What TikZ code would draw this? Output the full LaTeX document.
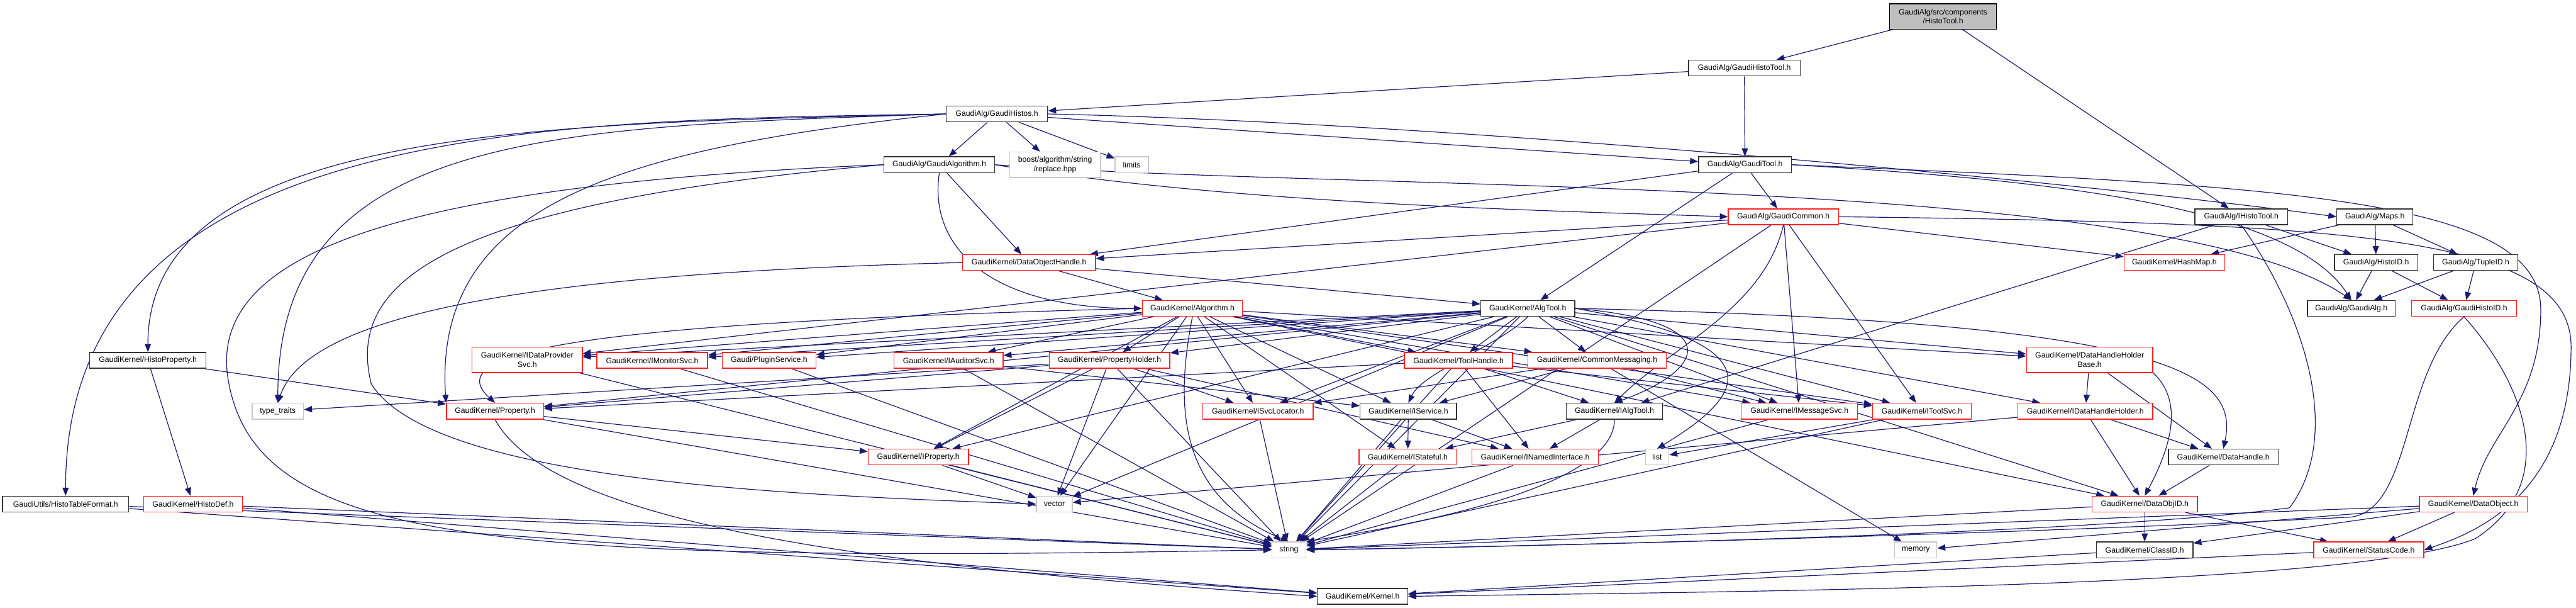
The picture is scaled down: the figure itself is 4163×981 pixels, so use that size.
\documentclass[tikz,border=0pt]{standalone}
\usepackage{fontspec}
\setmainfont{Liberation Sans}
\usetikzlibrary{arrows.meta}
\definecolor{edgec}{HTML}{191970}
\definecolor{redb}{HTML}{FF2020}
\definecolor{grayb}{HTML}{C8C8C8}
\definecolor{topfill}{HTML}{BFBFBF}
\begin{document}
\begin{tikzpicture}[x=1pt,y=-1pt,font=\fontsize{12.5}{15}\selectfont,
  box/.style={draw, fill=white, line width=1.4pt, inner sep=0pt, minimum height=25.5pt, align=center},
  nb/.style={box, draw=black!80},
  nr/.style={box, draw=redb},
  ng/.style={box, draw=grayb},
  ntop/.style={box, draw=black, fill=topfill},
  e/.style={draw=edgec, line width=1.2pt, -{Triangle[length=13pt,width=10pt]}}]
\useasboundingbox (0,0) rectangle (4163,981);
\path
 (3140,26.5) coordinate (ptop)
 (2819,110) coordinate (pght)
 (1611,184) coordinate (pgh)
 (1518,266) coordinate (pga)
 (1705,266) coordinate (pboost)
 (1829,266) coordinate (plimits)
 (2820,266) coordinate (pgt)
 (2882,350) coordinate (pgc)
 (3622,350) coordinate (piht)
 (3838,350) coordinate (pmaps)
 (1663,424) coordinate (pdoh)
 (3514,424) coordinate (phm)
 (3840,424) coordinate (phid)
 (4001,424) coordinate (ptid)
 (1927,498) coordinate (palg)
 (2469,498) coordinate (pat)
 (3800,498) coordinate (pgalg)
 (3982,498) coordinate (pghid)
 (239,582) coordinate (php)
 (852,581) coordinate (pidp)
 (1054,582) coordinate (pims)
 (1243,582) coordinate (pps)
 (1533,582) coordinate (pias)
 (1793,582) coordinate (pph)
 (2357,582) coordinate (pth)
 (2581,582) coordinate (pcm)
 (3377,581) coordinate (pdhhb)
 (449,664) coordinate (ptt)
 (800,664) coordinate (pprop)
 (2033,664) coordinate (pisl)
 (2276,664) coordinate (pisv)
 (2609,664) coordinate (piat)
 (2908,664) coordinate (pimsg)
 (3106,664) coordinate (pits)
 (3370,664) coordinate (pidhh)
 (1484,738) coordinate (pip)
 (2275,738) coordinate (pist)
 (2481,738) coordinate (pini)
 (2678,738) coordinate (plist)
 (3593,738) coordinate (pdh)
 (106,814) coordinate (phtf)
 (312,814) coordinate (phd)
 (1704,814) coordinate (pvec)
 (3466,814) coordinate (pdoid)
 (3997,814) coordinate (pdob)
 (2083,888) coordinate (pstr)
 (3096,888) coordinate (pmem)
 (3466,888) coordinate (pcid)
 (3828,888) coordinate (psc)
 (2202,963) coordinate (pkern);
% ---------- nodes (names used by connectors) ----------
\node[ntop, minimum width=173, minimum height=41] (top) at (ptop) {GaudiAlg/src/components\\/HistoTool.h};
\node[nb, minimum width=180] (ght) at (pght) {GaudiAlg/GaudiHistoTool.h};
\node[nb, minimum width=164] (gh) at (pgh) {GaudiAlg/GaudiHistos.h};
\node[nb, minimum width=179] (ga) at (pga) {GaudiAlg/GaudiAlgorithm.h};
\node[ng, minimum width=147, minimum height=41] (boost) at (pboost) {boost/algorithm/string\\/replace.hpp};
\node[ng, minimum width=54] (limits) at (plimits) {limits};
\node[nb, minimum width=150] (gt) at (pgt) {GaudiAlg/GaudiTool.h};
\node[nr, minimum width=178] (gc) at (pgc) {GaudiAlg/GaudiCommon.h};
\node[nb, minimum width=150] (iht) at (piht) {GaudiAlg/IHistoTool.h};
\node[nb, minimum width=123] (maps) at (pmaps) {GaudiAlg/Maps.h};
\node[nr, minimum width=215] (doh) at (pdoh) {GaudiKernel/DataObjectHandle.h};
\node[nr, minimum width=163] (hm) at (phm) {GaudiKernel/HashMap.h};
\node[nb, minimum width=135] (hid) at (phid) {GaudiAlg/HistoID.h};
\node[nb, minimum width=136] (tid) at (ptid) {GaudiAlg/TupleID.h};
\node[nr, minimum width=162] (alg) at (palg) {GaudiKernel/Algorithm.h};
\node[nb, minimum width=152] (at) at (pat) {GaudiKernel/AlgTool.h};
\node[nb, minimum width=142] (galg) at (pgalg) {GaudiAlg/GaudiAlg.h};
\node[nr, minimum width=170] (ghid) at (pghid) {GaudiAlg/GaudiHistoID.h};
\node[nb, minimum width=188] (hp) at (php) {GaudiKernel/HistoProperty.h};
\node[nr, minimum width=178, minimum height=41] (idp) at (pidp) {GaudiKernel/IDataProvider\\Svc.h};
\node[nr, minimum width=179] (ims) at (pims) {GaudiKernel/IMonitorSvc.h};
\node[nr, minimum width=151] (ps) at (pps) {Gaudi/PluginService.h};
\node[nr, minimum width=176] (ias) at (pias) {GaudiKernel/IAuditorSvc.h};
\node[nr, minimum width=195] (ph) at (pph) {GaudiKernel/PropertyHolder.h};
\node[nr, minimum width=175] (th) at (pth) {GaudiKernel/ToolHandle.h};
\node[nr, minimum width=224] (cm) at (pcm) {GaudiKernel/CommonMessaging.h};
\node[nr, minimum width=204, minimum height=41] (dhhb) at (pdhhb) {GaudiKernel/DataHandleHolder\\Base.h};
\node[ng, minimum width=83] (tt) at (ptt) {type\_traits};
\node[nr, minimum width=157] (prop) at (pprop) {GaudiKernel/Property.h};
\node[nr, minimum width=178] (isl) at (pisl) {GaudiKernel/ISvcLocator.h};
\node[nb, minimum width=156] (isv) at (pisv) {GaudiKernel/IService.h};
\node[nb, minimum width=156] (iat) at (piat) {GaudiKernel/IAlgTool.h};
\node[nr, minimum width=188] (imsg) at (pimsg) {GaudiKernel/IMessageSvc.h};
\node[nr, minimum width=160] (its) at (pits) {GaudiKernel/IToolSvc.h};
\node[nr, minimum width=218] (idhh) at (pidhh) {GaudiKernel/IDataHandleHolder.h};
\node[nr, minimum width=162] (ip) at (pip) {GaudiKernel/IProperty.h};
\node[nr, minimum width=157] (ist) at (pist) {GaudiKernel/IStateful.h};
\node[nr, minimum width=204] (ini) at (pini) {GaudiKernel/INamedInterface.h};
\node[ng, minimum width=38] (list) at (plist) {list};
\node[nb, minimum width=177] (dh) at (pdh) {GaudiKernel/DataHandle.h};
\node[nb, minimum width=204] (htf) at (phtf) {GaudiUtils/HistoTableFormat.h};
\node[nr, minimum width=160] (hd) at (phd) {GaudiKernel/HistoDef.h};
\node[ng, minimum width=58] (vec) at (pvec) {vector};
\node[nr, minimum width=170] (doid) at (pdoid) {GaudiKernel/DataObjID.h};
\node[nr, minimum width=174] (dob) at (pdob) {GaudiKernel/DataObject.h};
\node[ng, minimum width=55] (str) at (pstr) {string};
\node[ng, minimum width=68] (mem) at (pmem) {memory};
\node[nb, minimum width=156] (cid) at (pcid) {GaudiKernel/ClassID.h};
\node[nr, minimum width=178] (sc) at (psc) {GaudiKernel/StatusCode.h};
\node[nb, minimum width=146] (kern) at (pkern) {GaudiKernel/Kernel.h};
% ---------- edges ----------
\draw[e] (top) -- (ght);
\draw[e] (top) -- (iht);
\draw[e] (ght) -- (gh);
\draw[e] (ght) -- (gt);
\draw[e] (gh) -- (ga);
\draw[e] (gh) -- (boost);
\draw[e] (gh) -- (limits);
\draw[e] (gh.west) .. controls (900,205) and (449,210) .. (tt.north);
\draw[e] (gh.west) .. controls (900,200) and (239,200) .. (hp.north);
\draw[e] (gh.west) .. controls (900,195) and (106,190) .. (htf.north);
\draw[e] (gh.west) .. controls (1000,240) and (700,330) .. (prop.north west);
\draw[e] (gh) -- (gt);
\draw[e] (gh.east) .. controls (2400,200) and (3400,300) .. (maps.west);
\draw[e] (ga.south) .. controls (1500,400) and (1600,498) .. (alg.west);
\draw[e] (ga) -- (doh);
\draw[e] (ga.east) .. controls (2000,330) and (2500,340) .. (gc.west);
\draw[e] (ga.east) .. controls (2200,310) and (3500,280) .. (galg.north);
\draw[e] (ga.west) .. controls (600,300) and (330,420) .. (370,620) .. controls (420,880) and (800,910) .. (str.west);
\draw[e] (ga.west) .. controls (700,330) and (560,460) .. (600,620) .. controls (700,780) and (1300,800) .. (vec.west);
\draw[e] (gt) -- (at);
\draw[e] (gt) -- (doh);
\draw[e] (gt) -- (gc);
\draw[e] (gt.east) .. controls (3300,290) and (3700,330) .. (galg.north);
\draw[e] (gt.east) .. controls (3700,300) and (4106,320) .. (4106,500) .. controls (4106,650) and (4020,700) .. (dob.north);
\draw[e] (gc) -- (doh);
\draw[e] (gc) -- (hm);
\draw[e] (gc.east) .. controls (3800,360) and (4155,380) .. (4155,560) .. controls (4155,800) and (4000,860) .. (sc.east);
\draw[e] (gc) -- (idp);
\draw[e] (gc.south) .. controls (2850,500) and (2700,560) .. (iat.north);
\draw[e] (gc) -- (imsg);
\draw[e] (gc) -- (its);
\draw[e] (gc) -- (str);
\draw[e] (iht) -- (hid);
\draw[e] (iht) -- (iat);
\draw[e] (iht.south) .. controls (3720,500) and (3790,700) .. (3700,820) .. controls (3400,860) and (2600,880) .. (str.east);
\draw[e] (maps) -- (hid);
\draw[e] (maps) -- (tid);
\draw[e] (maps) -- (hm);
\draw[e] (hid) -- (galg);
\draw[e] (hid) -- (ghid);
\draw[e] (tid) -- (galg);
\draw[e] (tid) -- (ghid);
\draw[e] (ghid.south) .. controls (3880,600) and (3900,820) .. (3800,835) .. controls (3300,860) and (2600,880) .. (str.east);
\draw[e] (ghid.south) .. controls (4080,620) and (4140,780) .. (4000,870) .. controls (3800,950) and (2800,955) .. (kern.east);
\draw[e] (doh) -- (alg);
\draw[e] (doh) -- (at);
\draw[e] (doh.west) .. controls (900,440) and (500,500) .. (tt.north);
% Algorithm
\draw[e] (alg) -- (idp);
\draw[e] (alg) -- (ims);
\draw[e] (alg) -- (ps);
\draw[e] (alg) -- (ias);
\draw[e] (alg) -- (ph);
\draw[e] (alg) -- (th);
\draw[e] (alg) -- (cm);
\draw[e] (alg) -- (dhhb);
\draw[e] (alg.west) .. controls (1000,520) and (700,560) .. (prop.north);
\draw[e] (alg) -- (isl);
\draw[e] (alg) -- (isv);
\draw[e] (alg) -- (imsg);
\draw[e] (alg) -- (its);
\draw[e] (alg) -- (ip);
\draw[e] (alg) -- (ist);
\draw[e] (alg) -- (vec);
\draw[e] (alg.south) .. controls (1900,650) and (1900,800) .. (str.north);
\draw[e] (alg) -- (doid);
% AlgTool
\draw[e] (at) -- (idp);
\draw[e] (at) -- (ims);
\draw[e] (at) -- (ps);
\draw[e] (at) -- (ias);
\draw[e] (at) -- (ph);
\draw[e] (at) -- (th);
\draw[e] (at) -- (cm);
\draw[e] (at) -- (dhhb);
\draw[e] (at) -- (idhh);
\draw[e] (at) -- (isl);
\draw[e] (at.south) .. controls (2420,560) and (2300,600) .. (isv.north);
\draw[e] (at.east) .. controls (2800,520) and (2750,600) .. (iat.north);
\draw[e] (at) -- (imsg);
\draw[e] (at) -- (its);
\draw[e] (at) -- (ip);
\draw[e] (at.east) .. controls (2900,560) and (2800,650) .. (list.north);
\draw[e] (at) -- (vec);
\draw[e] (at) -- (str);
\draw[e] (at.east) .. controls (3500,520) and (3620,600) .. (dh.north);
\draw[e] (at) -- (doid);
\draw[e] (at) -- (prop);
% interfaces and helpers
\draw[e] (ph) -- (ip);
\draw[e] (ph) -- (prop);
\draw[e] (ph) -- (vec);
\draw[e] (ph) -- (str);
\draw[e] (ph) -- (tt);
\draw[e] (ph) -- (isl);
\draw[e] (ph) -- (ini);
\draw[e] (ias) -- (isv);
\draw[e] (ias) -- (str);
\draw[e] (idp) -- (str);
\draw[e] (ims) -- (str);
\draw[e] (ps) -- (str);
\draw[e] (th) -- (iat);
\draw[e] (th) -- (ini);
\draw[e] (th) -- (its);
\draw[e] (th) -- (prop);
\draw[e] (th) -- (str);
\draw[e] (cm) -- (imsg);
\draw[e] (cm) -- (isl);
\draw[e] (cm) -- (isv);
\draw[e] (cm) -- (mem);
\draw[e] (dhhb) -- (idhh);
\draw[e] (dhhb) -- (dh);
\draw[e] (dhhb.south east) .. controls (3520,640) and (3520,700) .. (doid.north);
\draw[e] (isl) -- (str);
\draw[e] (isv) -- (ist);
\draw[e] (isv) -- (ini);
\draw[e] (isv) -- (str);
\draw[e] (iat) -- (ist);
\draw[e] (iat) -- (ini);
\draw[e] (iat.south) .. controls (2610,800) and (2200,860) .. (str.north east);
\draw[e] (imsg) -- (str);
\draw[e] (its) -- (str);
\draw[e] (its) -- (list);
\draw[e] (idhh) -- (doid);
\draw[e] (idhh) -- (dh);
\draw[e] (idhh) -- (vec);
\draw[e] (ip) -- (vec);
\draw[e] (ip) -- (str);
\draw[e] (ist) -- (str);
\draw[e] (ini) -- (str);
\draw[e] (prop) -- (ip);
\draw[e] (prop) -- (str);
\draw[e] (prop.south) .. controls (900,860) and (1500,920) .. (kern.west);
\draw[e] (hp) -- (prop);
\draw[e] (hp) -- (hd);
\draw[e] (htf) -- (str);
\draw[e] (htf) -- (kern);
\draw[e] (hd) -- (str);
\draw[e] (hd) -- (kern);
\draw[e] (dh) -- (doid);
\draw[e] (doid) -- (str);
\draw[e] (doid) -- (cid);
\draw[e] (doid) -- (sc);
\draw[e] (dob) -- (str);
\draw[e] (dob) -- (cid);
\draw[e] (dob) -- (sc);
\draw[e] (dob) -- (mem);
\draw[e] (cid) -- (kern);
\draw[e] (sc) -- (kern);
% ---------- boxes again, on top of the connectors ----------
\node[ntop, minimum width=173, minimum height=41] at (ptop) {GaudiAlg/src/components\\/HistoTool.h};
\node[nb, minimum width=180] at (pght) {GaudiAlg/GaudiHistoTool.h};
\node[nb, minimum width=164] at (pgh) {GaudiAlg/GaudiHistos.h};
\node[nb, minimum width=179] at (pga) {GaudiAlg/GaudiAlgorithm.h};
\node[ng, minimum width=147, minimum height=41] at (pboost) {boost/algorithm/string\\/replace.hpp};
\node[ng, minimum width=54] at (plimits) {limits};
\node[nb, minimum width=150] at (pgt) {GaudiAlg/GaudiTool.h};
\node[nr, minimum width=178] at (pgc) {GaudiAlg/GaudiCommon.h};
\node[nb, minimum width=150] at (piht) {GaudiAlg/IHistoTool.h};
\node[nb, minimum width=123] at (pmaps) {GaudiAlg/Maps.h};
\node[nr, minimum width=215] at (pdoh) {GaudiKernel/DataObjectHandle.h};
\node[nr, minimum width=163] at (phm) {GaudiKernel/HashMap.h};
\node[nb, minimum width=135] at (phid) {GaudiAlg/HistoID.h};
\node[nb, minimum width=136] at (ptid) {GaudiAlg/TupleID.h};
\node[nr, minimum width=162] at (palg) {GaudiKernel/Algorithm.h};
\node[nb, minimum width=152] at (pat) {GaudiKernel/AlgTool.h};
\node[nb, minimum width=142] at (pgalg) {GaudiAlg/GaudiAlg.h};
\node[nr, minimum width=170] at (pghid) {GaudiAlg/GaudiHistoID.h};
\node[nb, minimum width=188] at (php) {GaudiKernel/HistoProperty.h};
\node[nr, minimum width=178, minimum height=41] at (pidp) {GaudiKernel/IDataProvider\\Svc.h};
\node[nr, minimum width=179] at (pims) {GaudiKernel/IMonitorSvc.h};
\node[nr, minimum width=151] at (pps) {Gaudi/PluginService.h};
\node[nr, minimum width=176] at (pias) {GaudiKernel/IAuditorSvc.h};
\node[nr, minimum width=195] at (pph) {GaudiKernel/PropertyHolder.h};
\node[nr, minimum width=175] at (pth) {GaudiKernel/ToolHandle.h};
\node[nr, minimum width=224] at (pcm) {GaudiKernel/CommonMessaging.h};
\node[nr, minimum width=204, minimum height=41] at (pdhhb) {GaudiKernel/DataHandleHolder\\Base.h};
\node[ng, minimum width=83] at (ptt) {type\_traits};
\node[nr, minimum width=157] at (pprop) {GaudiKernel/Property.h};
\node[nr, minimum width=178] at (pisl) {GaudiKernel/ISvcLocator.h};
\node[nb, minimum width=156] at (pisv) {GaudiKernel/IService.h};
\node[nb, minimum width=156] at (piat) {GaudiKernel/IAlgTool.h};
\node[nr, minimum width=188] at (pimsg) {GaudiKernel/IMessageSvc.h};
\node[nr, minimum width=160] at (pits) {GaudiKernel/IToolSvc.h};
\node[nr, minimum width=218] at (pidhh) {GaudiKernel/IDataHandleHolder.h};
\node[nr, minimum width=162] at (pip) {GaudiKernel/IProperty.h};
\node[nr, minimum width=157] at (pist) {GaudiKernel/IStateful.h};
\node[nr, minimum width=204] at (pini) {GaudiKernel/INamedInterface.h};
\node[ng, minimum width=38] at (plist) {list};
\node[nb, minimum width=177] at (pdh) {GaudiKernel/DataHandle.h};
\node[nb, minimum width=204] at (phtf) {GaudiUtils/HistoTableFormat.h};
\node[nr, minimum width=160] at (phd) {GaudiKernel/HistoDef.h};
\node[ng, minimum width=58] at (pvec) {vector};
\node[nr, minimum width=170] at (pdoid) {GaudiKernel/DataObjID.h};
\node[nr, minimum width=174] at (pdob) {GaudiKernel/DataObject.h};
\node[ng, minimum width=55] at (pstr) {string};
\node[ng, minimum width=68] at (pmem) {memory};
\node[nb, minimum width=156] at (pcid) {GaudiKernel/ClassID.h};
\node[nr, minimum width=178] at (psc) {GaudiKernel/StatusCode.h};
\node[nb, minimum width=146] at (pkern) {GaudiKernel/Kernel.h};
\end{tikzpicture}
\end{document}
